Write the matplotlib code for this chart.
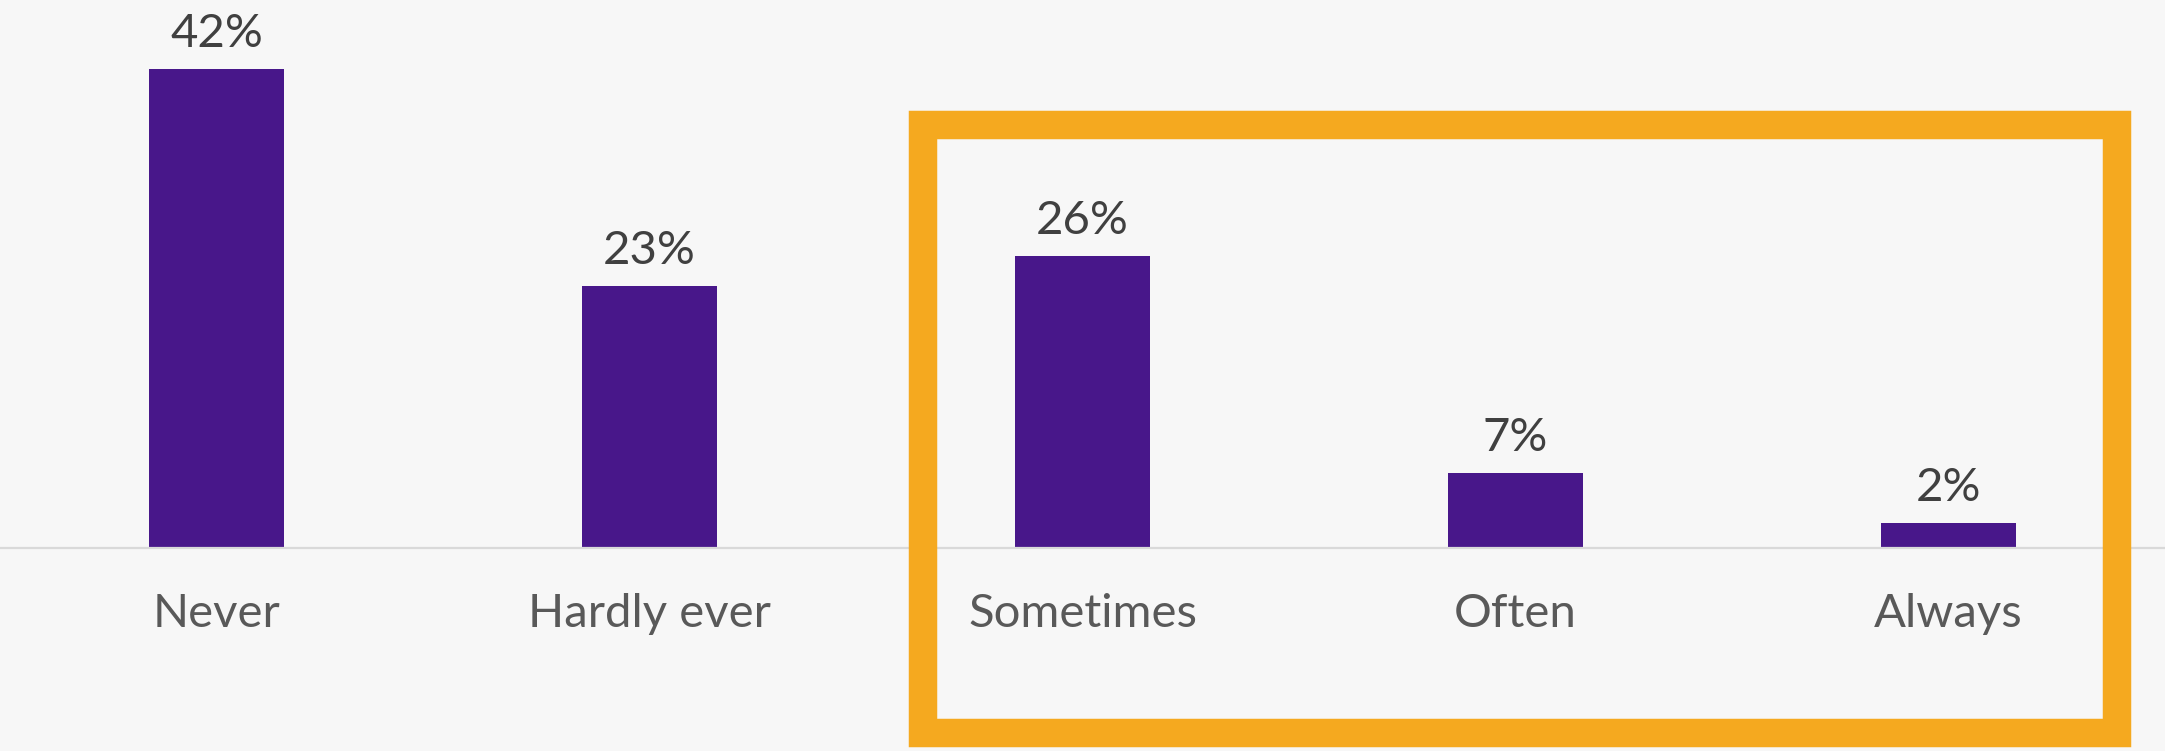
import matplotlib
matplotlib.use("Agg")
import matplotlib.pyplot as plt
from matplotlib.patches import Rectangle
from matplotlib.transforms import offset_copy, blended_transform_factory

categories = ["Never", "Hardly ever", "Sometimes", "Often", "Always"]
values = [42, 23, 25.6, 6.6, 2.2]

BG = "#F7F7F7"
PURPLE = "#48178A"
ORANGE = "#F5A91F"
AXIS = "#D9D9D9"

plt.rcParams['font.family'] = ['Lato', 'DejaVu Sans']

fig = plt.figure(figsize=(21.65, 7.51), dpi=100, facecolor=BG)
ax = fig.add_axes([0.0, 1 - 548 / 751, 1.0, 548 / 751])
ax.set_facecolor(BG)
ax.patch.set_alpha(0)

x = range(len(categories))
bars = ax.bar(x, values, width=0.312, color=PURPLE, zorder=3)
ax.set_xlim(-0.5, len(categories) - 0.5)
ax.set_ylim(0, 48.05)

for s in ["top", "right", "left"]:
    ax.spines[s].set_visible(False)
ax.spines["bottom"].set_color(AXIS)
ax.spines["bottom"].set_linewidth(1.6)
ax.spines["bottom"].set_zorder(6)
ax.set_yticks([])
ax.set_xticks([])

# value labels
for xi, v in zip(x, values):
    ax.annotate(f"{v:.0f}%", (xi, v), xytext=(0, 15.8), textcoords="offset points",
                ha="center", va="baseline", fontsize=34, color="#404040",
                fontweight="normal", zorder=5)

# category labels
trans = offset_copy(blended_transform_factory(ax.transData, ax.transAxes),
                    fig=fig, x=0, y=-79, units="dots")
for xi, c in zip(x, categories):
    ax.text(xi, 0, c, transform=trans, ha="center", va="baseline",
            fontsize=34, color="#595959", fontweight="normal")

# highlight box
W, H = 2165, 751
rect = Rectangle((923 / W, 1 - 732.5 / H), (2116.5 - 923) / W, (732.5 - 125) / H,
                 transform=fig.transFigure, fill=False, edgecolor=ORANGE,
                 linewidth=20.5, joinstyle="miter", zorder=4)
fig.patches.append(rect)

fig.savefig("out.png", dpi=100, facecolor=BG)
